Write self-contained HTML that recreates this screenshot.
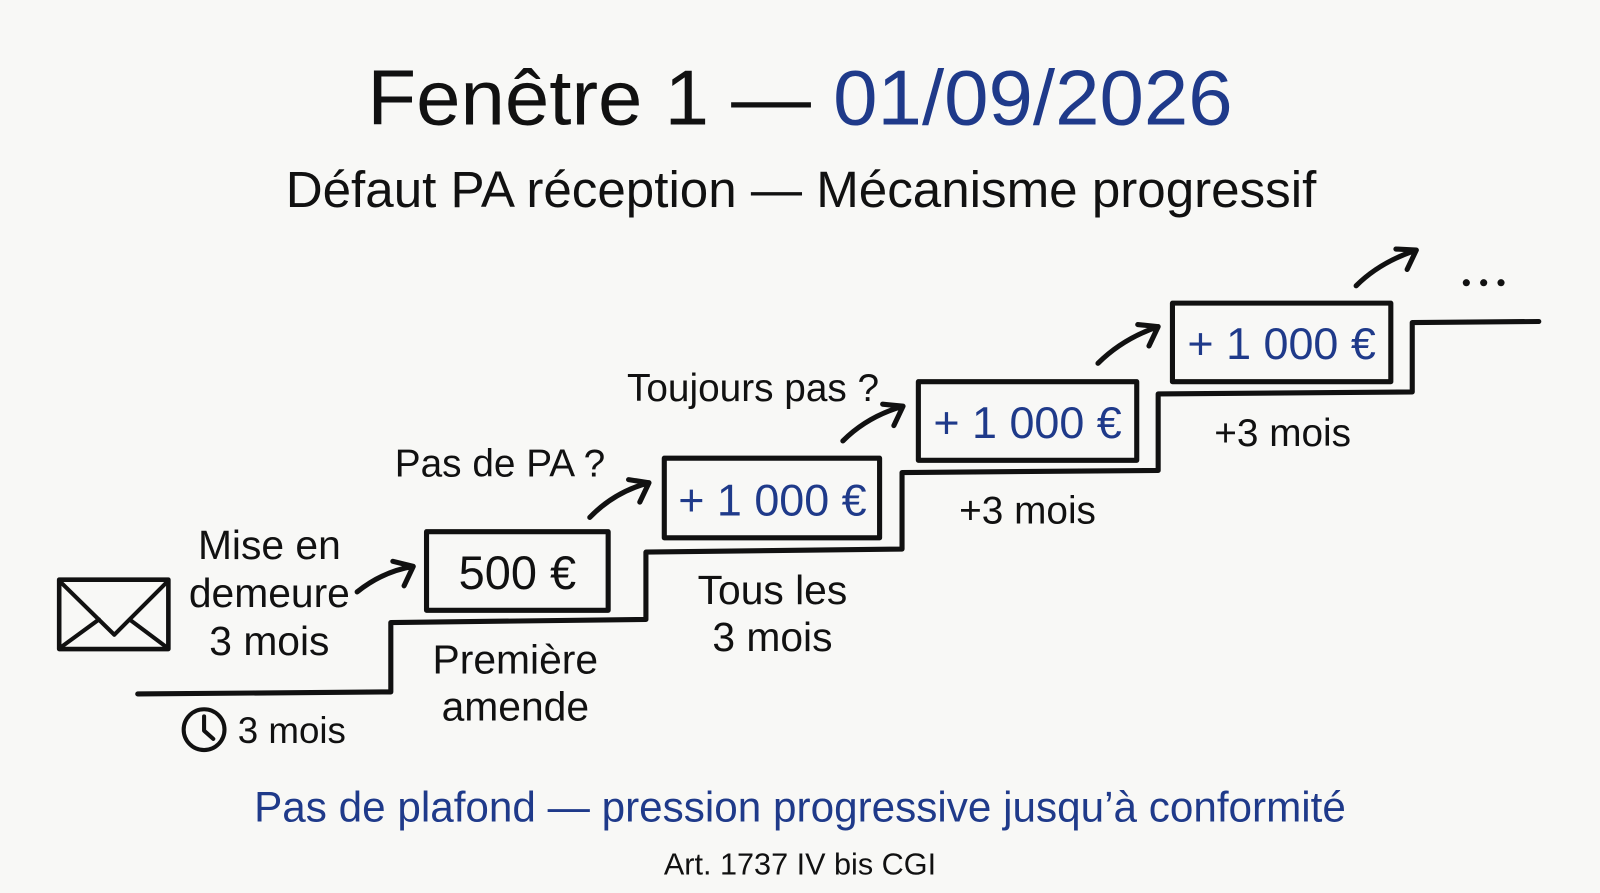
<!DOCTYPE html>
<html><head><meta charset="utf-8"><style>
html,body{margin:0;padding:0;background:#f8f8f6;}
svg{display:block}
text{font-family:"Liberation Sans",sans-serif;}
</style></head><body>
<svg width="1600" height="893" viewBox="0 0 1568 875" xmlns="http://www.w3.org/2000/svg">
<rect width="1568" height="875" fill="#f8f8f6"/>
<text x="784" y="122" font-size="76" text-anchor="middle" textLength="848" lengthAdjust="spacingAndGlyphs"><tspan fill="#111">Fenêtre 1 — </tspan><tspan fill="#1f3a8a">01/09/2026</tspan></text>
<text x="785" y="203" font-size="50" text-anchor="middle" fill="#111" textLength="1010" lengthAdjust="spacingAndGlyphs">Défaut PA réception — Mécanisme progressif</text>
<g fill="none" stroke="#111" stroke-width="5" stroke-linecap="round" stroke-linejoin="round">
<polyline points="135,680 383,678 383,610 633,607 633,541 884,538 884,463 1135,461 1135,386 1384,384 1384,316 1508,315"/>
<rect x="418" y="521" width="178" height="77"/>
<rect x="651" y="449" width="211" height="78"/>
<rect x="900" y="374" width="214" height="77"/>
<rect x="1149" y="297" width="214" height="77"/>
<path d="M350,580 Q375,560 405,555 M385,550 L405,555 L396,574"/>
<path d="M578,507 Q602,482 636,473 M616,470 L636,473 L627,492"/>
<path d="M826,432 Q850,408 885,398 M865,396 L885,398 L876,417"/>
<path d="M1076,356 Q1100,332 1135,320 M1115,318 L1135,320 L1126,339"/>
<path d="M1329,280 Q1352,257 1388,245 M1368,244 L1388,245 L1379,264"/>
<rect x="58" y="568" width="107" height="68" stroke-width="4.5"/>
<path d="M60,571 L112,622 L163,571 M60,634 L97,607 M163,634 L127,607" stroke-width="4"/>
<circle cx="200" cy="715" r="20" stroke-width="4"/>
<path d="M200,702 L200,716 L209,724" stroke-width="4"/>
</g>
<g fill="#111">
<circle cx="1437" cy="277" r="3.5"/><circle cx="1454" cy="277" r="3.5"/><circle cx="1471" cy="277" r="3.5"/>
</g>
<g font-size="40" fill="#111" text-anchor="middle">
<text x="264" y="548">Mise en</text>
<text x="264" y="595">demeure</text>
<text x="264" y="642">3 mois</text>
<text x="286" y="728" font-size="36">3 mois</text>
<text x="505" y="660">Première</text>
<text x="505" y="706">amende</text>
<text x="757" y="592">Tous les</text>
<text x="757" y="638">3 mois</text>
<text x="1007" y="513" font-size="38">+3 mois</text>
<text x="1257" y="437" font-size="38">+3 mois</text>
<text x="490" y="467" font-size="38">Pas de PA ?</text>
<text x="738" y="393" font-size="38">Toujours pas ?</text>
<text x="507" y="577" font-size="46">500 €</text>
</g>
<g font-size="44" fill="#1f3a8a" text-anchor="middle">
<text x="757" y="505">+ 1 000 €</text>
<text x="1007" y="429">+ 1 000 €</text>
<text x="1256" y="352">+ 1 000 €</text>
<text x="784" y="805" font-size="42" textLength="1070" lengthAdjust="spacingAndGlyphs">Pas de plafond — pression progressive jusqu’à conformité</text>
</g>
<text x="784" y="857" font-size="30" fill="#111" text-anchor="middle">Art. 1737 IV bis CGI</text>
</svg>
</body></html>
